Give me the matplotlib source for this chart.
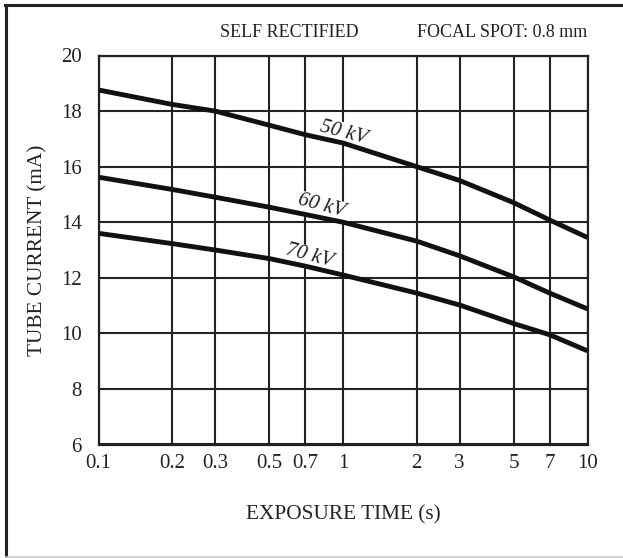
import matplotlib
matplotlib.use("Agg")
import matplotlib.pyplot as plt
from matplotlib.lines import Line2D

plt.rcParams['font.family'] = ['Liberation Serif', 'DejaVu Serif']

exposure_time = [0.1, 0.2, 0.3, 0.5, 0.7, 1, 2, 3, 5, 7, 10]
current_50kv = [18.76, 18.24, 18.0, 17.49, 17.15, 16.85, 16.0, 15.5, 14.7, 14.08, 13.45]
current_60kv = [15.62, 15.18, 14.9, 14.54, 14.28, 14.0, 13.32, 12.79, 12.03, 11.45, 10.88]
current_70kv = [13.6, 13.23, 13.0, 12.69, 12.42, 12.1, 11.45, 11.02, 10.35, 9.95, 9.37]
series_labels = ["50 kV", "60 kV", "70 kV"]
label_pos = [(1.0, 17.23), (0.82, 14.57), (0.73, 12.77)]

x_ticks = [0.1, 0.2, 0.3, 0.5, 0.7, 1, 2, 3, 5, 7, 10]
x_ticklabels = ["0.1", "0.2", "0.3", "0.5", "0.7", "1", "2", "3", "5", "7", "10"]
y_ticks = [6, 8, 10, 12, 14, 16, 18, 20]

W, H = 623, 558
fig = plt.figure(figsize=(W / 100, H / 100), dpi=100)
ax = fig.add_axes([98.5 / W, 1 - 444.5 / H, (587.5 - 98.5) / W, (444.5 - 55.5) / H])

ax.set_xscale('log')
ax.set_xlim(0.1, 10)
ax.set_ylim(6, 20)
ax.set_xticks(x_ticks)
ax.set_xticklabels(x_ticklabels)
ax.xaxis.set_minor_locator(matplotlib.ticker.NullLocator())
ax.set_yticks(y_ticks)
ax.tick_params(length=0, labelsize=15, colors='#222222')
ax.tick_params(axis='x', pad=7)
ax.tick_params(axis='y', pad=12)

ax.set_axisbelow(True)
ax.grid(True, which='major', color='#222222', linewidth=1.5)
for s in ax.spines.values():
    s.set_color('#222222')
    s.set_linewidth(1.6)

for ys in (current_50kv, current_60kv, current_70kv):
    ax.plot(exposure_time, ys, color='#111111', linewidth=3.5, zorder=4,
            solid_capstyle='butt', solid_joinstyle='round')

for lab, (lx, ly) in zip(series_labels, label_pos):
    ax.text(lx, ly, lab, fontsize=15, style='italic', rotation=-15,
            ha='center', va='center', color='#222222', zorder=3,
            bbox=dict(facecolor='white', edgecolor='none', pad=0.5))

ax.set_xlabel("EXPOSURE TIME (s)", fontsize=15.3, color='#222222', labelpad=23)
ax.set_ylabel("TUBE CURRENT (mA)", fontsize=15.3, color='#222222', labelpad=10)

fig.text(289 / W, 1 - 37 / H, "SELF RECTIFIED", fontsize=13, ha='center',
         va='baseline', color='#222222')
fig.text(587 / W, 1 - 37 / H, "FOCAL SPOT: 0.8 mm", fontsize=13, ha='right',
         va='baseline', color='#222222')

# outer frame
fig.add_artist(Line2D([5 / W, 1], [1 - 5 / H, 1 - 5 / H], transform=fig.transFigure,
                      color='#222222', linewidth=2.2))
fig.add_artist(Line2D([6 / W, 6 / W], [1 - 5 / H, 0], transform=fig.transFigure,
                      color='#222222', linewidth=2.2))
fig.add_artist(Line2D([6 / W, 1], [1.2 / H, 1.2 / H], transform=fig.transFigure,
                      color='#cccccc', linewidth=1.2))

fig.savefig("out.png", dpi=100)
